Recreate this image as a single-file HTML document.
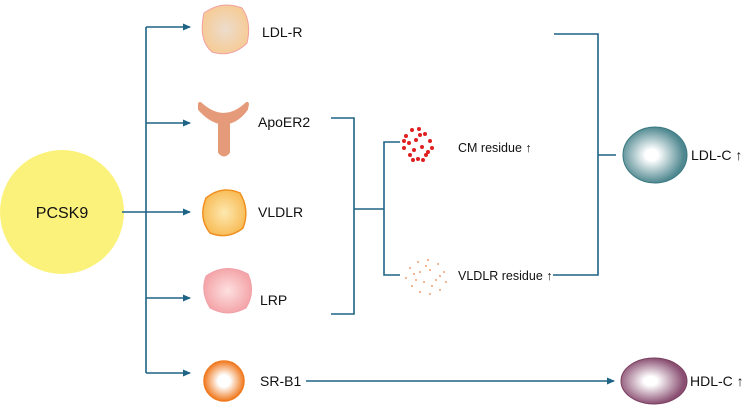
<!DOCTYPE html>
<html><head><style>body{margin:0;background:#fff}svg{display:block}text{font-family:"Liberation Sans",sans-serif;font-size:14px;fill:#111}</style></head><body>
<svg width="749" height="418" viewBox="0 0 749 418" xmlns="http://www.w3.org/2000/svg">
<defs>
<marker id="a" markerWidth="8" markerHeight="8" refX="7" refY="4" orient="auto" markerUnits="userSpaceOnUse"><path d="M0,0.5 L8,4 L0,7.5z" fill="#1f6385"/></marker>
<radialGradient id="g1"><stop offset="0" stop-color="#ecdccc"/><stop offset="1" stop-color="#f6cc98"/></radialGradient>
<radialGradient id="g2"><stop offset="0" stop-color="#fde8b0"/><stop offset="1" stop-color="#f8be5a"/></radialGradient>
<radialGradient id="g3"><stop offset="0" stop-color="#fde0e0"/><stop offset="1" stop-color="#f4a6aa"/></radialGradient>
<radialGradient id="g4"><stop offset="0.3" stop-color="#fff"/><stop offset="1" stop-color="#f07a20"/></radialGradient>
<radialGradient id="g5" cx="0.45" cy="0.5"><stop offset="0.2" stop-color="#fff"/><stop offset="1" stop-color="#4f8890"/></radialGradient>
<radialGradient id="g6" cx="0.45" cy="0.5"><stop offset="0.2" stop-color="#fff"/><stop offset="1" stop-color="#8a4f72"/></radialGradient>
</defs>
<circle cx="62" cy="212" r="62" fill="#fbf27c"/>
<text x="62" y="218" text-anchor="middle" style="font-size:16px">PCSK9</text>
<g stroke="#1f6385" stroke-width="1.6" fill="none">
<line x1="122" y1="212" x2="190" y2="212" marker-end="url(#a)"/>
<line x1="146" y1="27" x2="146" y2="373"/>
<line x1="146" y1="27" x2="190" y2="27" marker-end="url(#a)"/>
<line x1="146" y1="123" x2="190" y2="123" marker-end="url(#a)"/>
<line x1="146" y1="298" x2="190" y2="298" marker-end="url(#a)"/>
<line x1="146" y1="373" x2="190" y2="373" marker-end="url(#a)"/>
<polyline points="331,118 354,118 354,314 331,314"/>
<line x1="354" y1="209" x2="384" y2="209"/>
<polyline points="400,142 384,142 384,275 400,275"/>
<polyline points="554,34 598,34 598,275 553,275"/>
<line x1="598" y1="155" x2="616" y2="155"/>
<line x1="306" y1="381" x2="614" y2="381" marker-end="url(#a)"/>
</g>
<path d="M204,13 Q222,0 242,8 Q252,22 247,43 Q232,58 212,52 Q198,40 204,13z" fill="url(#g1)" stroke="#f0a0a0" stroke-width="1"/>
<text x="262" y="37">LDL-R</text>
<path d="M200,104 Q224,126 247,104 L246,109 Q238,120 228,122 L228,152 Q224,157 220,152 L220,122 Q210,120 200,109z" fill="#e59a7a" stroke="#e59a7a" stroke-width="4" stroke-linejoin="round"/>
<text x="258" y="127">ApoER2</text>
<path d="M206,198 Q222,185 240,193 Q250,210 243,228 Q228,240 210,233 Q198,218 206,198z" fill="url(#g2)" stroke="#f09020" stroke-width="1.5"/>
<text x="258" y="217">VLDLR</text>
<path d="M206,276 Q226,262 248,274 Q256,292 246,308 Q228,318 210,308 Q200,292 206,276z" fill="url(#g3)" stroke="#f0a0a8" stroke-width="1"/>
<text x="260" y="305">LRP</text>
<circle cx="224" cy="381" r="20" fill="url(#g4)" stroke="#f07a20" stroke-width="1.5"/>
<text x="260" y="386">SR-B1</text>
<g fill="#e02020">
<circle cx="406" cy="136" r="2"/><circle cx="412" cy="130" r="2"/><circle cx="419" cy="129" r="2"/><circle cx="425" cy="134" r="2"/><circle cx="430" cy="141" r="2"/><circle cx="432" cy="148" r="2"/><circle cx="426" cy="155" r="2"/><circle cx="418" cy="159" r="2"/><circle cx="410" cy="155" r="2"/><circle cx="404" cy="148" r="2"/><circle cx="409" cy="143" r="2"/><circle cx="416" cy="140" r="2"/><circle cx="422" cy="147" r="2"/><circle cx="414" cy="150" r="2"/><circle cx="428" cy="152" r="2"/><circle cx="420" cy="135" r="2"/><circle cx="404" cy="141" r="2"/><circle cx="413" cy="160" r="2"/><circle cx="423" cy="160" r="2"/>
</g>
<g fill="#f0a070">
<circle cx="410" cy="268" r="1"/><circle cx="418" cy="262" r="1"/><circle cx="428" cy="260" r="1"/><circle cx="438" cy="264" r="1"/><circle cx="444" cy="272" r="1"/><circle cx="446" cy="282" r="1"/><circle cx="440" cy="290" r="1"/><circle cx="430" cy="294" r="1"/><circle cx="420" cy="292" r="1"/><circle cx="412" cy="286" r="1"/><circle cx="406" cy="278" r="1"/><circle cx="420" cy="272" r="1"/><circle cx="430" cy="270" r="1"/><circle cx="436" cy="280" r="1"/><circle cx="424" cy="282" r="1"/><circle cx="416" cy="280" r="1"/><circle cx="432" cy="286" r="1"/><circle cx="426" cy="266" r="1"/><circle cx="414" cy="274" r="1"/><circle cx="440" cy="276" r="1"/>
</g>
<text x="458" y="152" style="font-size:12.5px">CM residue ↑</text>
<text x="458" y="280" style="font-size:12.5px">VLDLR residue ↑</text>
<ellipse cx="655" cy="155" rx="32" ry="28" fill="url(#g5)" stroke="#3a7880" stroke-width="1"/>
<text x="691" y="160">LDL-C ↑</text>
<ellipse cx="654" cy="381" rx="33" ry="23" fill="url(#g6)" stroke="#7a4060" stroke-width="1"/>
<text x="690" y="386">HDL-C ↑</text>
</svg>
</body></html>
